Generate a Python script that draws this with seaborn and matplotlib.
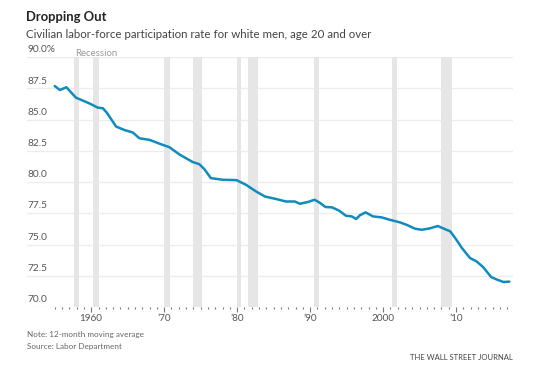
import matplotlib
matplotlib.use("Agg")
import matplotlib.pyplot as plt
import matplotlib.transforms as mtransforms
import seaborn as sns
import pandas as pd
import numpy as np

# ---- data ----
years = [1955.0, 1955.7, 1956.6, 1957.9, 1959.7, 1960.9, 1961.6, 1962.2, 1963.4,
         1964.5, 1965.7, 1966.6, 1968.0, 1969.8, 1970.7, 1972.1, 1973.0, 1973.9,
         1974.8, 1975.5, 1976.4, 1978.0, 1979.9, 1981.2, 1982.6, 1983.8, 1985.4,
         1986.7, 1987.9, 1988.6, 1989.7, 1990.6, 1991.3, 1992.1, 1993.0, 1994.0,
         1994.9, 1995.7, 1996.3, 1996.8, 1997.6, 1998.6, 1999.8, 2000.9, 2002.3,
         2003.2, 2004.4, 2005.3, 2006.4, 2007.5, 2008.4, 2009.2, 2009.9, 2010.8,
         2011.9, 2012.8, 2013.7, 2014.8, 2015.6, 2016.5, 2017.3]
rate = [87.68, 87.36, 87.58, 86.75, 86.30, 85.95, 85.90, 85.50, 84.44,
        84.17, 83.96, 83.50, 83.37, 82.97, 82.79, 82.20, 81.90, 81.60,
        81.43, 81.03, 80.31, 80.18, 80.15, 79.78, 79.24, 78.84, 78.63,
        78.44, 78.44, 78.26, 78.40, 78.58, 78.35, 78.00, 77.97, 77.70,
        77.30, 77.25, 77.04, 77.33, 77.57, 77.25, 77.17, 76.98, 76.77,
        76.58, 76.26, 76.18, 76.29, 76.48, 76.25, 76.05, 75.50, 74.72,
        73.92, 73.65, 73.20, 72.40, 72.19, 72.00, 72.03]

rec_start = [1957.6, 1960.3, 1969.95, 1973.9, 1980.0, 1981.55, 1990.55, 2001.2, 2007.95]
rec_end = [1958.3, 1961.1, 1970.85, 1975.2, 1980.55, 1982.85, 1991.2, 2001.9, 2009.5]

ytick_vals = [70.0, 72.5, 75.0, 77.5, 80.0, 82.5, 85.0, 87.5, 90.0]
ytick_labels = ["70.0", "72.5", "75.0", "77.5", "80.0", "82.5", "85.0", "87.5", "90.0%"]
xtick_vals = [1960, 1970, 1980, 1990, 2000, 2010]
xtick_labels = ["1960", "\u201970", "\u201980", "\u201990", "2000", "\u201910"]

df = pd.DataFrame({"year": years, "rate": rate})

sns.set_theme(style="white")
plt.rcParams["font.family"] = ["Lato", "DejaVu Sans"]

W, H = 554, 367
fig = plt.figure(figsize=(W / 100, H / 100), dpi=100)
left, right, top, bottom = 27, 513, 57, 307
ax = fig.add_axes([left / W, 1 - bottom / H, (right - left) / W, (bottom - top) / H])

ax.set_xlim(1951.2, 2017.8)
ax.set_ylim(70, 90)

# recession bands
for s, e in zip(rec_start, rec_end):
    ax.axvspan(s, e, color="#e6e6e6", lw=0, zorder=1)

# gridlines
for v in ytick_vals:
    ax.axhline(v, color="#ececec", lw=1.0, zorder=0.5)

sns.lineplot(data=df, x="year", y="rate", ax=ax, color="#0f8cbd", lw=1.8,
             zorder=3, legend=False)

for sp in ax.spines.values():
    sp.set_visible(False)

ax.set_xlabel("")
ax.set_ylabel("")
ax.set_yticks([])
ax.set_xticks(xtick_vals)
ax.set_xticklabels(xtick_labels, fontsize=7.2, color="#555555")
ax.set_xticks(list(range(1955, 2018)), minor=True)
ax.tick_params(axis="x", which="major", direction="out", length=3.5, width=0.8,
               color="#777777", pad=1.5, bottom=True)
ax.tick_params(axis="x", which="minor", direction="out", length=1.5, width=0.8,
               color="#777777", bottom=True)

# y labels sitting above gridlines at the left
trans = mtransforms.blended_transform_factory(ax.transAxes, ax.transData)
for v, lab in zip(ytick_vals, ytick_labels):
    ax.text(0.0, v + 0.22, lab, transform=trans, ha="left", va="bottom",
            fontsize=7.3, color="#555555")

ax.text(75 / W, 1 - 53 / H, "Recession", transform=fig.transFigure,
        ha="left", va="center", fontsize=6.9, color="#9a9a9a")

fig.text(26 / W, 1 - 17 / H, "Dropping Out", ha="left", va="center",
         fontsize=9.4, fontweight="bold", color="#222222")
fig.text(26 / W, 1 - 34 / H,
         "Civilian labor-force participation rate for white men, age 20 and over",
         ha="left", va="center", fontsize=8.3, color="#444444")

fig.text(27 / W, 1 - 335 / H, "Note: 12-month moving average", ha="left",
         va="center", fontsize=5.9, color="#666666")
fig.text(27 / W, 1 - 347 / H, "Source: Labor Department", ha="left",
         va="center", fontsize=5.9, color="#666666")
fig.text(513 / W, 1 - 357 / H, "THE WALL STREET JOURNAL", ha="right",
         va="center", fontsize=5.5, color="#444444")

fig.savefig("out.png", dpi=100, facecolor="white")
